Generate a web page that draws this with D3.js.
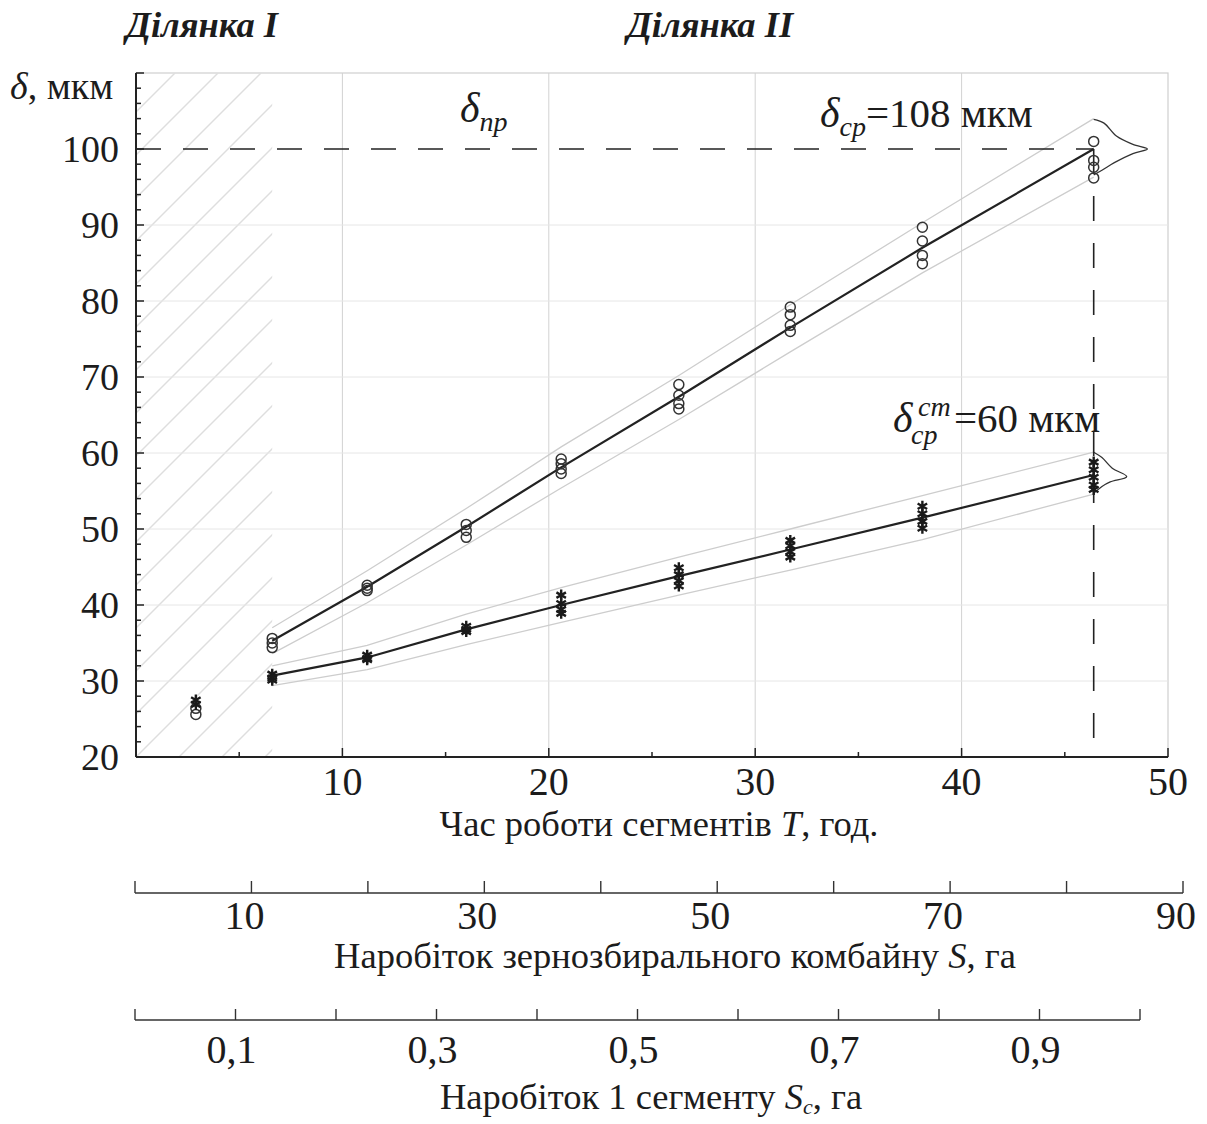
<!DOCTYPE html>
<html><head><meta charset="utf-8">
<script src="https://cdn.jsdelivr.net/npm/d3@7"></script>
<style>
body{margin:0;background:#fff}
svg{display:block}
text{font-family:"Liberation Serif","Times New Roman",serif;fill:#1c1c1c}
</style>
</head><body>
<svg id="c" width="1207" height="1124"></svg>
<script>
// ---------- data ----------
const pointHours   = [2.9, 6.6, 11.2, 16.0, 20.6, 26.3, 31.7, 38.1, 46.4];
const circleValues = [[25.6, 26.4], [35.6, 35.0, 34.4], [42.6, 42.2, 41.9], [50.6, 49.8, 48.9],
                      [59.2, 58.6, 57.9, 57.3], [69.0, 67.6, 66.5, 65.8], [79.2, 78.2, 76.8, 76.0],
                      [89.7, 87.9, 86.0, 84.9], [101.0, 98.5, 97.6, 96.2]];
const starValues   = [[27.5, 26.9], [30.9, 30.4, 30.1], [33.4, 33.0, 32.8], [37.2, 36.8, 36.5],
                      [41.3, 40.2, 39.4, 38.9], [44.9, 44.0, 43.2, 42.5], [48.5, 47.8, 47.0, 46.3],
                      [53.0, 52.0, 51.0, 50.1], [58.8, 57.8, 56.8, 55.8, 55.2]];
const fitHours   = [6.6, 11.2, 16.0, 20.6, 26.3, 31.7, 38.1, 46.4];
const fitUpper   = [35.3, 42.4, 50.3, 58.1, 67.4, 76.5, 87.0, 100.0];
const bandUpHi   = [37.0, 44.5, 52.7, 60.8, 70.2, 79.5, 90.3, 104.0];
const bandUpLo   = [33.6, 40.3, 47.9, 55.4, 64.4, 73.3, 83.7, 96.3];
const fitLower   = [30.7, 33.1, 36.8, 40.0, 43.8, 47.3, 51.5, 57.1];
const bandLoHi   = [32.0, 34.7, 38.8, 42.3, 46.3, 50.0, 54.4, 60.1];
const bandLoLo   = [29.4, 31.5, 34.8, 37.7, 41.3, 44.6, 48.6, 54.6];
const distUpper  = [[46.4, 103.9], [46.9, 103.4], [47.5, 101.7], [48.3, 100.6], [49.0, 100.0],
                    [48.3, 99.4], [47.4, 98.2], [46.8, 97.2], [46.4, 96.6]];
const distLower  = [[46.4, 60.1], [46.8, 59.4], [47.3, 58.0], [48.0, 56.9], [47.2, 56.2],
                    [46.8, 55.6], [46.4, 54.7]];
const limitValue = 100;      // δ_пр
const limitHour  = 46.4;
const yTicks = [20, 30, 40, 50, 60, 70, 80, 90, 100];
const xTicks = [10, 20, 30, 40, 50];
const sTicks = [0, 10, 20, 30, 40, 50, 60, 70, 80, 90];
const sLabels = [10, 30, 50, 70, 90];
const scTicks = [0, 0.1, 0.2, 0.3, 0.4, 0.5, 0.6, 0.7, 0.8, 0.9, 1.0];
const scLabels = [0.1, 0.3, 0.5, 0.7, 0.9];
const zoneI = [0, 6.6];

// ---------- scales ----------
const svg = d3.select("#c");
const x = d3.scaleLinear().domain([0, 50]).range([136, 1168]);
const y = d3.scaleLinear().domain([20, 110]).range([757, 73]);
const xs = d3.scaleLinear().domain([0, 90]).range([135, 1183]);
const xc = d3.scaleLinear().domain([0, 1]).range([135, 1140]);
const ink = "#222";
const light = "#d2d2d2";

// frame
svg.append("rect").attr("x", x(0)).attr("y", y(110)).attr("width", x(50) - x(0)).attr("height", y(20) - y(110))
  .attr("fill", "none").attr("stroke", "#cfcfcf").attr("stroke-width", 1.2);

// hatch zone I
svg.append("clipPath").attr("id", "zc").append("rect")
  .attr("x", x(zoneI[0])).attr("y", y(110)).attr("width", x(zoneI[1]) - x(zoneI[0])).attr("height", y(20) - y(110));
const H = y(20) - y(110);
const hg = svg.append("g").attr("clip-path", "url(#zc)");
for (let k = -20; k < 8; k++) {
  const x0 = x(0) + k * 43;
  hg.append("line").attr("x1", x0).attr("y1", y(20)).attr("x2", x0 + H).attr("y2", y(110))
    .attr("stroke", "#dedede").attr("stroke-width", 1.4);
}

// grid
svg.append("g").selectAll("line").data(xTicks.filter(d => d < 50)).join("line")
  .attr("x1", d => x(d)).attr("x2", d => x(d)).attr("y1", y(20)).attr("y2", y(110))
  .attr("stroke", light).attr("stroke-width", 1);
svg.append("g").selectAll("line").data(yTicks.filter(d => d > 20 && d < 100)).join("line")
  .attr("x1", x(0)).attr("x2", x(50)).attr("y1", d => y(d)).attr("y2", d => y(d))
  .attr("stroke", "#e6e6e6").attr("stroke-width", 1);

// bands
const line = d3.line().x(d => x(d[0])).y(d => y(d[1]));
[bandUpHi, bandUpLo, bandLoHi, bandLoLo].forEach(b => {
  svg.append("path").datum(fitHours.map((h, i) => [h, b[i]])).attr("d", line)
    .attr("fill", "none").attr("stroke", "#cdcdcd").attr("stroke-width", 1.3);
});

// distribution curves
const dline = d3.line().x(d => x(d[0])).y(d => y(d[1])).curve(d3.curveCatmullRom);
[distUpper, distLower].forEach(dd => {
  svg.append("path").datum(dd).attr("d", dline).attr("fill", "none").attr("stroke", "#333").attr("stroke-width", 1.3);
});

// dashed limit lines
svg.append("line").attr("x1", x(0)).attr("x2", x(limitHour)).attr("y1", y(limitValue)).attr("y2", y(limitValue))
  .attr("stroke", ink).attr("stroke-width", 1.6).attr("stroke-dasharray", "25 22");
svg.append("line").attr("x1", x(limitHour)).attr("x2", x(limitHour)).attr("y1", y(limitValue)).attr("y2", y(20))
  .attr("stroke", ink).attr("stroke-width", 1.6).attr("stroke-dasharray", "25 22");

// fitted lines
[fitUpper, fitLower].forEach(f => {
  svg.append("path").datum(fitHours.map((h, i) => [h, f[i]])).attr("d", line)
    .attr("fill", "none").attr("stroke", ink).attr("stroke-width", 2.2);
});

// points
const circ = [];
pointHours.forEach((h, i) => circleValues[i].forEach(v => circ.push([h, v])));
svg.append("g").selectAll("circle").data(circ).join("circle")
  .attr("cx", d => x(d[0])).attr("cy", d => y(d[1])).attr("r", 5)
  .attr("fill", "none").attr("stroke", "#333").attr("stroke-width", 1.5);
const stars = [];
pointHours.forEach((h, i) => starValues[i].forEach(v => stars.push([h, v])));
const starPath = r => {
  let p = "";
  [90, 30, 150].forEach(a => {
    const dx = r * Math.cos(a * Math.PI / 180), dy = r * Math.sin(a * Math.PI / 180);
    p += `M${-dx},${-dy}L${dx},${dy}`;
  });
  return p;
};
svg.append("g").selectAll("path").data(stars).join("path")
  .attr("transform", d => `translate(${x(d[0])},${y(d[1])})`)
  .attr("d", starPath(5.5)).attr("stroke", "#1a1a1a").attr("stroke-width", 2.4).attr("fill", "none");

// axes lines
svg.append("line").attr("x1", x(0)).attr("x2", x(0)).attr("y1", y(20)).attr("y2", y(110)).attr("stroke", ink).attr("stroke-width", 2);
svg.append("line").attr("x1", x(0)).attr("x2", x(50)).attr("y1", y(20)).attr("y2", y(20)).attr("stroke", ink).attr("stroke-width", 2);
// y ticks
const yMinor = d3.range(20, 111, 2);
svg.append("g").selectAll("line").data(yMinor).join("line")
  .attr("x1", x(0)).attr("x2", d => x(0) + (d % 10 === 0 ? 8 : 5)).attr("y1", d => y(d)).attr("y2", d => y(d))
  .attr("stroke", ink).attr("stroke-width", 1.5);
// x ticks
const xMinor = d3.range(5, 51, 5);
svg.append("g").selectAll("line").data(xMinor).join("line")
  .attr("x1", d => x(d)).attr("x2", d => x(d)).attr("y1", y(20)).attr("y2", d => y(20) - (d % 10 === 0 ? 9 : 5))
  .attr("stroke", ink).attr("stroke-width", 1.5);

// y labels
svg.append("g").selectAll("text").data(yTicks).join("text")
  .attr("x", 119).attr("y", d => y(d)).attr("dy", "0.34em").attr("text-anchor", "end")
  .attr("font-size", 38).text(d => d);
// x labels
svg.append("g").selectAll("text").data(xTicks).join("text")
  .attr("x", d => x(d)).attr("y", 795).attr("text-anchor", "middle")
  .attr("font-size", 40).text(d => d);
// y title
const yt = svg.append("text").attr("x", 10).attr("y", 99).attr("font-size", 38);
yt.append("tspan").attr("font-style", "italic").text("δ");
yt.append("tspan").text(", мкм");
// x title
const xt = svg.append("text").attr("x", 659).attr("y", 836).attr("text-anchor", "middle").attr("font-size", 36.5);
xt.append("tspan").text("Час роботи сегментів ");
xt.append("tspan").attr("font-style", "italic").text("T");
xt.append("tspan").text(", год.");

// S axis
svg.append("line").attr("x1", xs(0)).attr("x2", xs(90)).attr("y1", 893).attr("y2", 893).attr("stroke", "#333").attr("stroke-width", 1.6);
svg.append("g").selectAll("line").data(sTicks).join("line")
  .attr("x1", d => xs(d)).attr("x2", d => xs(d)).attr("y1", 893).attr("y2", 881).attr("stroke", "#333").attr("stroke-width", 1.4);
svg.append("g").selectAll("text").data(sLabels).join("text")
  .attr("x", d => xs(d)).attr("dx", -7).attr("y", 929).attr("text-anchor", "middle").attr("font-size", 40).text(d => d);
const st = svg.append("text").attr("x", 675).attr("y", 968).attr("text-anchor", "middle").attr("font-size", 36.5);
st.append("tspan").text("Наробіток зернозбирального комбайну ");
st.append("tspan").attr("font-style", "italic").text("S");
st.append("tspan").text(", га");

// Sc axis
svg.append("line").attr("x1", xc(0)).attr("x2", xc(1)).attr("y1", 1020).attr("y2", 1020).attr("stroke", "#333").attr("stroke-width", 1.6);
svg.append("g").selectAll("line").data(scTicks).join("line")
  .attr("x1", d => xc(d)).attr("x2", d => xc(d)).attr("y1", 1020).attr("y2", 1009).attr("stroke", "#333").attr("stroke-width", 1.4);
svg.append("g").selectAll("text").data(scLabels).join("text")
  .attr("x", d => xc(d)).attr("dx", -4).attr("y", 1063).attr("text-anchor", "middle").attr("font-size", 40)
  .text(d => d3.format(".1f")(d).replace(".", ","));
const sct = svg.append("text").attr("x", 651).attr("y", 1109).attr("text-anchor", "middle").attr("font-size", 36.5);
sct.append("tspan").text("Наробіток 1 сегменту ");
sct.append("tspan").attr("font-style", "italic").text("S");
sct.append("tspan").attr("font-style", "italic").attr("font-size", 22).attr("dy", 5).text("c");
sct.append("tspan").attr("dy", -5).text(", га");

// zone titles
svg.append("text").attr("x", 202).attr("y", 37).attr("text-anchor", "middle").attr("font-size", 36.5)
  .attr("font-weight", "bold").attr("font-style", "italic").text("Ділянка I");
svg.append("text").attr("x", 710).attr("y", 37).attr("text-anchor", "middle").attr("font-size", 36.5)
  .attr("font-weight", "bold").attr("font-style", "italic").text("Ділянка II");

// annotations
const a1 = svg.append("text").attr("x", 460).attr("y", 122).attr("font-size", 42).attr("font-style", "italic");
a1.append("tspan").text("δ");
a1.append("tspan").attr("font-size", 28).attr("dy", 9).text("пр");

const a2 = svg.append("text").attr("x", 820).attr("y", 127).attr("font-size", 41);
a2.append("tspan").attr("font-style", "italic").attr("font-size", 42).text("δ");
a2.append("tspan").attr("font-style", "italic").attr("font-size", 28).attr("dy", 9).text("ср");
a2.append("tspan").attr("dy", -9).text("=108 мкм");

svg.append("text").attr("x", 893).attr("y", 432).attr("font-size", 42).attr("font-style", "italic").text("δ");
svg.append("text").attr("x", 918).attr("y", 416).attr("font-size", 28).attr("font-style", "italic").text("ст");
svg.append("text").attr("x", 911).attr("y", 444).attr("font-size", 28).attr("font-style", "italic").text("ср");
svg.append("text").attr("x", 954).attr("y", 432).attr("font-size", 41).text("=60 мкм");
</script>
</body></html>
